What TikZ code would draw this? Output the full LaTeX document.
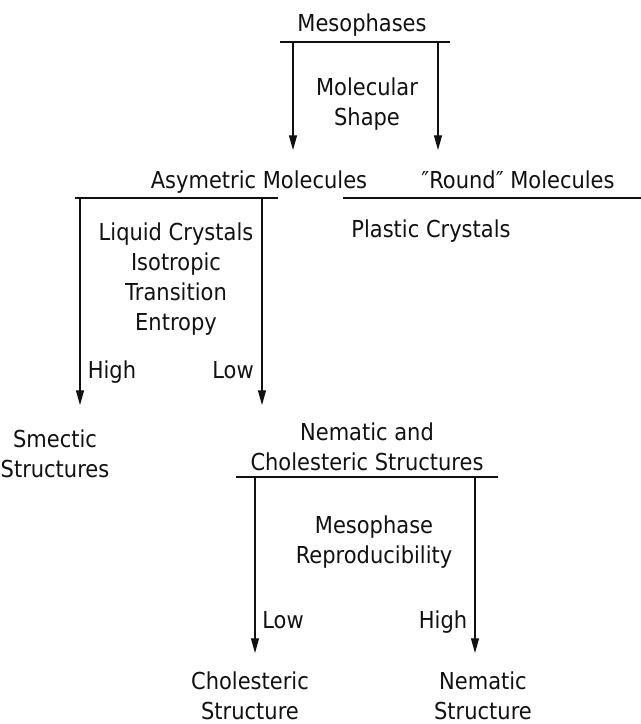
\documentclass[tikz,border=0pt]{standalone}
\usepackage{fontspec}
\setmainfont{DejaVu Sans}[FakeStretch=0.9]
\usepackage{tikz}
\usetikzlibrary{arrows.meta}
\definecolor{Ink}{HTML}{111111}

\tikzset{
	lbl/.style={inner sep=0pt, align=center, text=Ink,
		font=\fontsize{17.5}{22.5}\selectfont},
	bar/.style={draw=Ink, line width=1.5pt},
	arr/.style={draw=Ink, line width=0.9pt,
		-{Triangle[width=6pt,length=11pt]}}
}

\begin{document}
\begin{tikzpicture}[x=0.75pt,y=-0.75pt]
			\useasboundingbox (0,0) rectangle (641,724);
			
			% top level (anchor=base sits on the last line)
			\node[lbl, anchor=base] (meso) at (362,32) {Mesophases};
			\coordinate (mbarL) at (280,42);
			\coordinate (mbarR) at (450,42);
			\draw[bar] (mbarL) -- (mbarR);
			\node[lbl, anchor=base] (shape) at (367,125) {Molecular\\Shape};
			\coordinate (t1) at (293,150);
			\coordinate (t2) at (438,150);
			\draw[arr] (mbarL -| t1) -- (t1);
			\draw[arr] (mbarL -| t2) -- (t2);
			
			% molecular shape
			\node[lbl, anchor=base] (asym) at (259,188) {Asymetric Molecules};
			\coordinate (abarL) at (75,198);
			\coordinate (abarR) at (278,198);
			\draw[bar] (abarL) -- (abarR);
			\node[lbl, anchor=base] (round) at (518,188) {″Round″ Molecules};
			\coordinate (rbarL) at (343,198);
			\coordinate (rbarR) at (641,198);
			\draw[bar] (rbarL) -- (rbarR);
			\node[lbl, anchor=base] (plastic) at (431,237) {Plastic Crystals};
			
			% transition entropy
			\node[lbl, anchor=base] (entropy) at (176,330)
				{Liquid Crystals\\Isotropic\\Transition\\Entropy};
			\node[lbl, anchor=base] (high1) at (112,378) {High};
			\node[lbl, anchor=base] (low1) at (233,378) {Low};
			\coordinate (t3) at (80,405);
			\coordinate (t4) at (262,405);
			\draw[arr] (abarL -| t3) -- (t3);
			\draw[arr] (abarL -| t4) -- (t4);
			
			\node[lbl, anchor=base] (smectic) at (55,477) {Smectic\\Structures};
			\node[lbl, anchor=base] (nemchol) at (367,470)
				{Nematic and\\Cholesteric Structures};
			\coordinate (nbarL) at (236,477);
			\coordinate (nbarR) at (498,477);
			\draw[bar] (nbarL) -- (nbarR);
			
			% reproducibility
			\node[lbl, anchor=base] (reprod) at (374,563)
				{Mesophase\\Reproducibility};
			\node[lbl, anchor=base] (low2) at (283,628) {Low};
			\node[lbl, anchor=base] (high2) at (443,628) {High};
			\coordinate (t5) at (255,653);
			\coordinate (t6) at (475,653);
			\draw[arr] (nbarL -| t5) -- (t5);
			\draw[arr] (nbarL -| t6) -- (t6);
			
			\node[lbl, anchor=base] (chol) at (250,719) {Cholesteric\\Structure};
			\node[lbl, anchor=base] (nem) at (483,719) {Nematic\\Structure};
		\end{tikzpicture}
\end{document}
